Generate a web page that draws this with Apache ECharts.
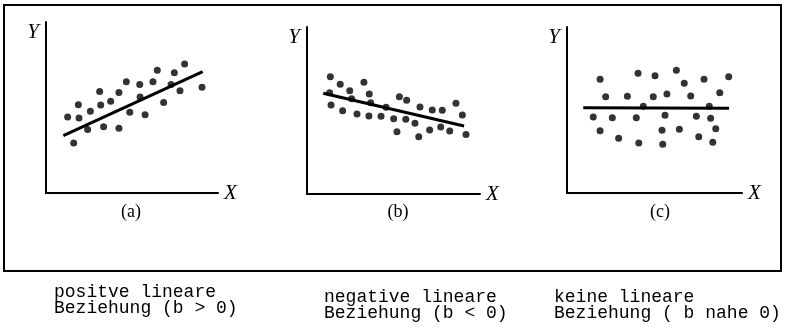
<!DOCTYPE html>
<html>
<head>
<meta charset="utf-8">
<script src="https://cdn.jsdelivr.net/npm/echarts@6/dist/echarts.min.js"></script>
<style>
  html, body { margin: 0; padding: 0; background: #fff; }
  #chart { width: 797px; height: 330px; }
</style>
</head>
<body>
<div id="chart"></div>
<script>
// Scatter points (x, y on a 0–100 scale) for the three kinds of relationship
const pointsA = [
  [12.6, 44.5], [16.1, 29.2], [18.8, 51.6], [19.2, 43.9], [24.2, 37.2],
  [25.8, 47.8], [31.2, 59.4], [31.8, 51.4], [33.5, 38.8], [37.6, 53.7],
  [42.4, 58.8], [42.4, 37.8], [46.7, 65.1], [48.7, 47.2], [54.5, 63.4],
  [54.7, 56.1], [57.6, 45.7], [62.2, 65.1], [64.7, 71.8], [68.4, 52.9],
  [72.7, 63.5], [74.6, 70.3], [77.9, 59.8], [80.6, 75.5], [90.7, 61.9]
];
const pointsB = [
  [13.5, 70.2], [13.1, 60.7], [13.9, 53.3], [19.2, 65.7], [20.6, 49.9],
  [24.7, 61.9], [25.8, 57.1], [28.9, 47.9], [32.9, 66.9], [36.0, 59.9],
  [36.8, 54.7], [35.8, 46.7], [42.8, 46.5], [45.7, 51.9], [50.1, 45.1],
  [52.0, 37.3], [53.4, 58.3], [57.6, 56.1], [57.1, 44.7], [62.4, 42.3],
  [65.3, 52.1], [64.6, 34.3], [70.9, 38.3], [72.4, 50.3], [77.3, 40.1],
  [78.2, 50.1], [82.5, 37.7], [86.1, 54.3], [89.8, 47.3], [91.9, 35.7]
];
const pointsC = [
  [18.9, 68.5], [22.1, 58.0], [15.0, 45.8], [18.9, 37.5], [25.9, 45.4],
  [29.5, 33.0], [34.5, 58.3], [39.6, 45.4], [40.6, 72.1], [41.0, 30.1],
  [43.6, 52.2], [49.3, 58.0], [50.3, 70.7], [54.3, 37.8], [54.7, 29.3],
  [56.0, 46.8], [57.1, 59.6], [62.5, 73.9], [64.2, 38.4], [67.0, 66.1],
  [70.7, 58.4], [73.9, 46.2], [75.3, 33.9], [78.3, 68.5], [81.3, 52.2],
  [82.1, 45.0], [83.3, 30.5], [85.0, 38.7], [87.3, 60.4], [92.4, 70.1]
];

// Fitted regression lines (start and end point)
const lineA = [[10.1, 33.5], [91.1, 71.0]];
const lineB = [[9.4, 60.3], [90.8, 40.7]];
const lineC = [[9.3, 51.4], [92.6, 51.0]];

// Text
const panelLabels = ['(a)', '(b)', '(c)'];
const captions = [
  'positve lineare\nBeziehung (b > 0)',
  'negative lineare\nBeziehung (b < 0)',
  'keine lineare\nBeziehung ( b nahe 0)'
];
const axisNameX = 'X';
const axisNameY = 'Y';

const panels = [
  { points: pointsA, line: lineA, grid: { left: 46, top: 22, width: 172, height: 171 }, labelX: 131, labelY: 203, capX: 54, capY: 284 },
  { points: pointsB, line: lineB, grid: { left: 307, top: 27, width: 173, height: 167 }, labelX: 398, labelY: 203, capX: 324, capY: 289 },
  { points: pointsC, line: lineC, grid: { left: 567, top: 27, width: 175, height: 166 }, labelX: 660, labelY: 203, capX: 554, capY: 289 }
];

const nameFont = { fontFamily: 'Liberation Serif', fontStyle: 'italic', fontSize: 21, color: '#000' };

const option = {
  animation: false,
  backgroundColor: '#fff',
  grid: panels.map(p => Object.assign({ containLabel: false }, p.grid)),
  xAxis: panels.map((p, i) => ({
    type: 'value', gridIndex: i, min: 0, max: 100,
    name: axisNameX, nameLocation: 'end', nameGap: 6,
    nameTextStyle: Object.assign({ verticalAlign: 'middle', align: 'left' }, nameFont),
    axisLine: { show: true, onZero: false, lineStyle: { color: '#000', width: 2 } },
    axisTick: { show: false }, axisLabel: { show: false }, splitLine: { show: false }
  })),
  yAxis: panels.map((p, i) => ({
    type: 'value', gridIndex: i, min: 0, max: 100,
    name: axisNameY, nameLocation: 'end', nameGap: -10,
    nameTextStyle: Object.assign({ verticalAlign: 'middle', align: 'right', padding: [0, 7, 0, 0] }, nameFont),
    axisLine: { show: true, onZero: false, lineStyle: { color: '#000', width: 2 } },
    axisTick: { show: false }, axisLabel: { show: false }, splitLine: { show: false }
  })),
  title: panels.map((p, i) => ({
    text: panelLabels[i], left: p.labelX, top: p.labelY, textAlign: 'center', padding: 0,
    textStyle: { fontFamily: 'Liberation Serif', fontWeight: 'normal', fontSize: 18, color: '#000' }
  })).concat(panels.map((p, i) => ({
    text: captions[i], left: p.capX, top: p.capY, padding: 0,
    textStyle: { fontFamily: 'Liberation Mono', fontWeight: 'normal', fontSize: 18, lineHeight: 16, color: '#000' }
  }))),
  graphic: [{
    type: 'rect', shape: { x: 4, y: 5, width: 777, height: 266 },
    style: { fill: 'none', stroke: '#000', lineWidth: 2 }
  }],
  series: panels.flatMap((p, i) => [
    {
      type: 'scatter', xAxisIndex: i, yAxisIndex: i, data: p.points,
      symbol: 'circle', symbolSize: 7, itemStyle: { color: '#000' }, silent: true
    },
    {
      type: 'line', xAxisIndex: i, yAxisIndex: i, data: p.line,
      showSymbol: false, symbol: 'none', lineStyle: { color: '#000', width: 3 }, silent: true
    }
  ])
};

echarts.init(document.getElementById('chart'), null, { renderer: 'canvas' }).setOption(option);
</script>
</body>
</html>
